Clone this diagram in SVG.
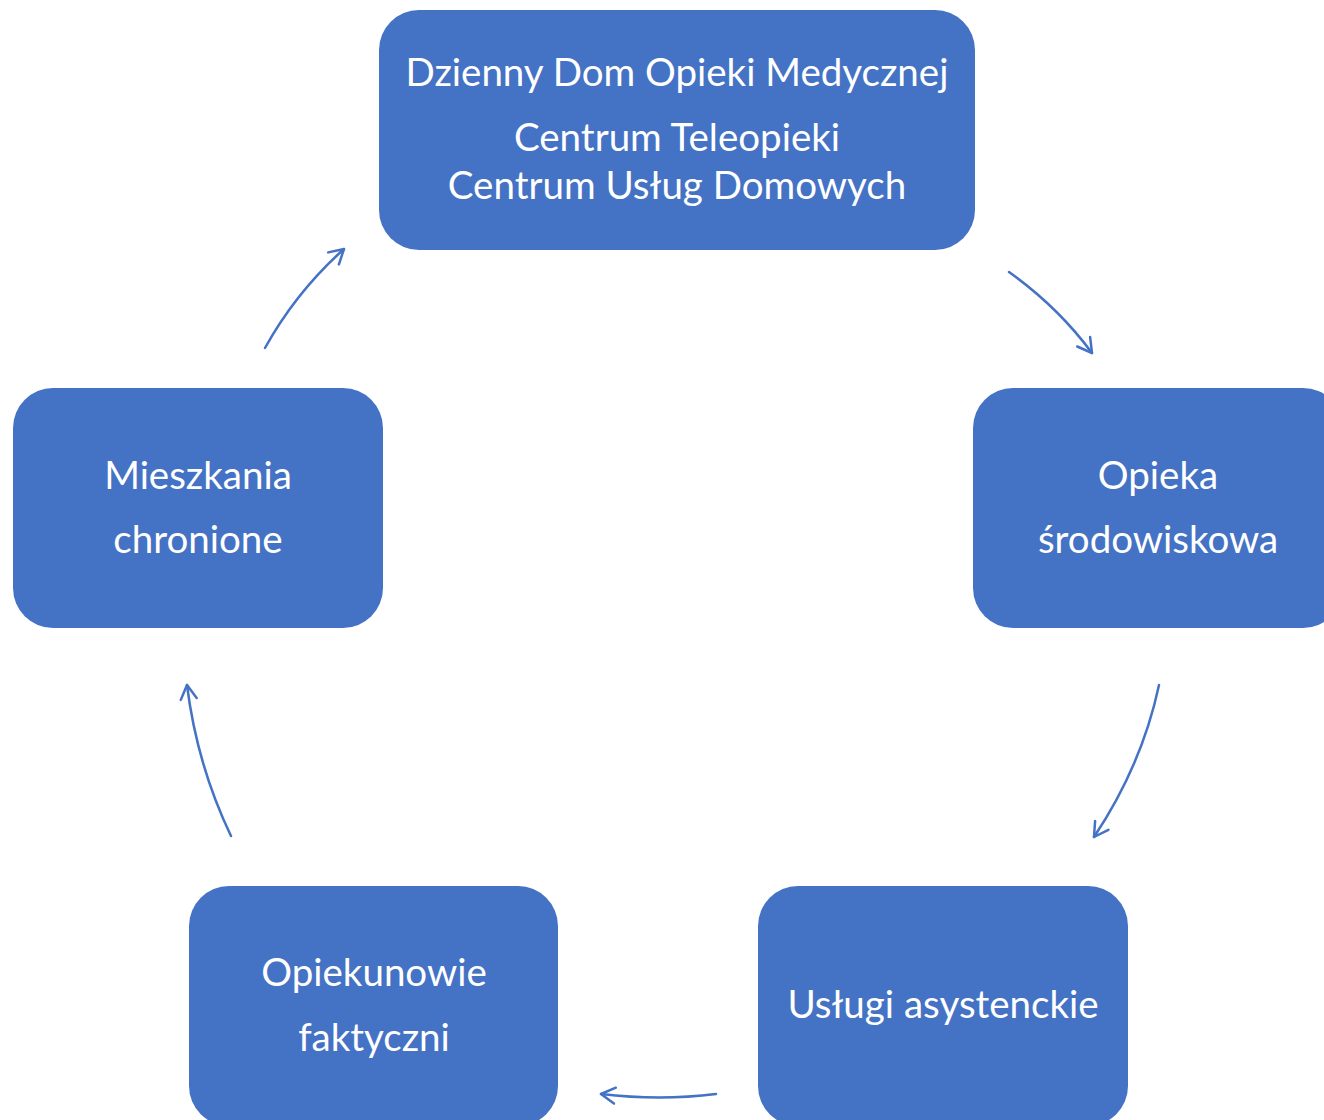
<svg xmlns="http://www.w3.org/2000/svg" width="1324" height="1120" viewBox="0 0 1324 1120">
<style>
.box{fill:#4472C4;}
.t{fill:#ffffff;font-family:Lato,"Noto Sans",sans-serif;font-size:38.5px;text-anchor:middle;}
.c{fill:none;stroke:#4472C4;stroke-width:2.5;stroke-linecap:round;}
</style>
<defs>
<marker id="ah" viewBox="0 0 20 20" refX="18" refY="10" markerWidth="20" markerHeight="20" markerUnits="userSpaceOnUse" orient="auto">
<path d="M4,2 L18,10 L4,18" fill="none" stroke="#4472C4" stroke-width="2.5" stroke-linecap="round" stroke-linejoin="round"/>
</marker>
</defs>
<rect width="1324" height="1120" fill="#ffffff"/>
<g id="connectors">
<path class="c" d="M265,348 Q296,292 344,249" marker-end="url(#ah)"/>
<path class="c" d="M1009,272 Q1058,307 1092,353" marker-end="url(#ah)"/>
<path class="c" d="M1159,685 Q1142,765 1094,837" marker-end="url(#ah)"/>
<path class="c" d="M716,1094 Q660,1101 601,1094" marker-end="url(#ah)"/>
<path class="c" d="M231,836 Q197,765 187,685" marker-end="url(#ah)"/>
</g>
<g id="node-top">
<rect class="box" x="379" y="10" width="596" height="240" rx="40"/>
<text class="t" x="677" y="86">Dzienny Dom Opieki Medycznej</text>
<text class="t" x="677" y="151">Centrum Teleopieki</text>
<text class="t" x="677" y="199">Centrum Usług Domowych</text>
</g>
<g id="node-right">
<rect class="box" x="973" y="388" width="370" height="240" rx="40"/>
<text class="t" x="1158" y="489">Opieka</text>
<text class="t" x="1158" y="553">środowiskowa</text>
</g>
<g id="node-bottom-right">
<rect class="box" x="758" y="886" width="370" height="240" rx="40"/>
<text class="t" x="943" y="1018">Usługi asystenckie</text>
</g>
<g id="node-bottom-left">
<rect class="box" x="189" y="886" width="369" height="240" rx="40"/>
<text class="t" x="374" y="986">Opiekunowie</text>
<text class="t" x="374" y="1051">faktyczni</text>
</g>
<g id="node-left">
<rect class="box" x="13" y="388" width="370" height="240" rx="40"/>
<text class="t" x="198" y="489">Mieszkania</text>
<text class="t" x="198" y="553">chronione</text>
</g>
</svg>
